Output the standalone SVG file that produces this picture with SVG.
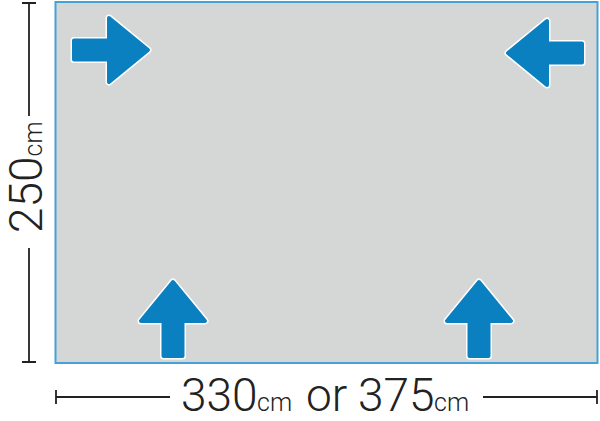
<svg xmlns="http://www.w3.org/2000/svg" width="600" height="421" viewBox="0 0 600 421">
<style>
.dim{stroke:#222;stroke-width:1.8;fill:none}
.lbl{font-family:Roboto,"Liberation Sans",sans-serif;font-weight:300;fill:#222}
.big{font-size:46px}
.small{font-size:25px}
.out{fill:#fff;stroke:#fff;stroke-width:7;stroke-linejoin:round}
.arr{fill:#0a80c0;stroke:#0a80c0;stroke-width:4;stroke-linejoin:round}
</style>
<defs>
<path id="ap" d="M-79,-9.5 H-44 V-32 L-5,0 L-44,32 V9.5 H-79 Z"/>
<g id="arrow"><use href="#ap" class="out"/><use href="#ap" class="arr"/></g>
</defs>
<g id="floor">
<rect x="55.5" y="2" width="542" height="361" fill="#d5d6d6" stroke="#45a2d8" stroke-width="2"/>
</g>
<g id="arrow-tl"><use href="#arrow" transform="translate(153,50)"/></g>
<g id="arrow-tr"><use href="#arrow" transform="translate(503,53) rotate(180)"/></g>
<g id="arrow-bl"><use href="#arrow" transform="translate(173,277) rotate(-90)"/></g>
<g id="arrow-br"><use href="#arrow" transform="translate(479,277) rotate(-90)"/></g>
<g id="connectors">
<path class="dim" d="M29,3 V116 M29,248 V362 M22,3 H36 M22,362 H36"/>
<path class="dim" d="M56,397 H170 M483,397 H597 M56,390 V404 M597,390 V404"/>
</g>
<g id="label-height">
<text class="lbl" transform="translate(42,233) rotate(-90)"><tspan class="big" x="0" y="0">250</tspan><tspan class="small">cm</tspan></text>
</g>
<g id="label-width">
<text class="lbl" y="411"><tspan class="big" x="181">330</tspan><tspan class="small" x="257">cm</tspan><tspan class="big" x="306">or</tspan><tspan class="big" x="358">375</tspan><tspan class="small" x="434">cm</tspan></text>
</g>
</svg>
